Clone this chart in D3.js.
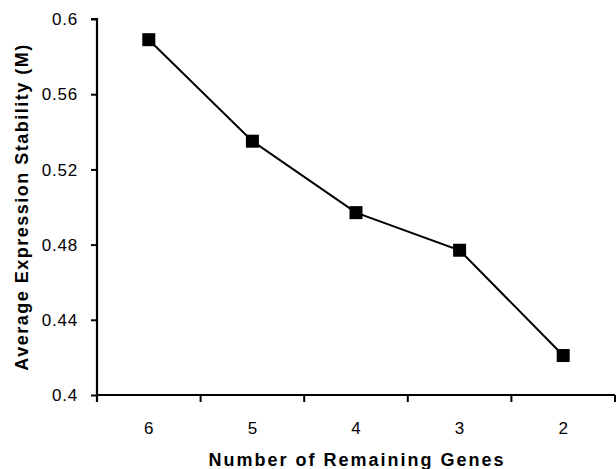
<!DOCTYPE html>
<html>
<head>
<meta charset="utf-8">
<script src="https://cdnjs.cloudflare.com/ajax/libs/d3/7.8.5/d3.min.js"></script>
<style>
	body { margin: 0; background: #fff; }
	text { font-family: "Liberation Sans", Arial, sans-serif; fill: #000; }
</style>
</head>
<body>
<div class="c-svg"></div>
<script>
//DATA
//-------------------------------------------------------------------------
const genes = ["6", "5", "4", "3", "2"];
const stability = [0.589, 0.535, 0.497, 0.477, 0.421];
const yTicks = [0.4, 0.44, 0.48, 0.52, 0.56, 0.6];

//opts for svg
const opts = {
	width: 616,
	height: 469,
	margin: { top: 19, right: 1, bottom: 74, left: 97 }
};

const inner = {
	width: opts.width - opts.margin.left - opts.margin.right,
	height: opts.height - opts.margin.top - opts.margin.bottom
};

const svg = d3.select(".c-svg")
	.append("svg")
	.attr("width", opts.width)
	.attr("height", opts.height);

const g = svg.append("g")
	.attr("transform", `translate(${opts.margin.left} ${opts.margin.top})`);

//scales
const x = d3.scaleBand()
	.domain(genes)
	.range([0, inner.width]);

const y = d3.scaleLinear()
	.domain([0.4, 0.6])
	.range([inner.height, 0]);

//AXIS
//-------------------------------------------------------------------------
const yAxis = d3.axisLeft(y)
	.tickValues(yTicks)
	.tickFormat(d3.format("~g"))
	.tickSize(6)
	.tickPadding(13);

const yG = g.append("g").call(yAxis);
yG.select(".domain").attr("stroke-width", 2.2).attr("d", `M0,${inner.height + 7}V0H-6`);
yG.selectAll(".tick line").attr("stroke-width", 2);
yG.selectAll("text")
	.style("font-size", "17px")
	.style("letter-spacing", "0.8px")
	.attr("dy", "0.34em")
	.attr("fill", "#000");

//x axis: ticks between categories
const xG = g.append("g").attr("transform", `translate(0 ${inner.height})`);
xG.append("line")
	.attr("x1", 0).attr("x2", inner.width)
	.attr("stroke", "#000").attr("stroke-width", 2.2);

const bounds = genes.map((d) => x(d)).concat([inner.width]);
xG.selectAll(".xtick")
	.data(bounds)
	.join("line")
	.attr("x1", (d) => d).attr("x2", (d) => d)
	.attr("y1", 0).attr("y2", 7)
	.attr("stroke", "#000").attr("stroke-width", 2);

xG.selectAll(".xlabel")
	.data(genes)
	.join("text")
	.attr("x", (d) => x(d) + x.bandwidth() / 2)
	.attr("y", 39)
	.attr("text-anchor", "middle")
	.style("font-size", "17px")
	.text((d) => d);

//LINE + MARKERS
//-------------------------------------------------------------------------
const pts = genes.map((d, i) => ({ key: d, value: stability[i] }));

const line = d3.line()
	.x((d) => x(d.key) + x.bandwidth() / 2)
	.y((d) => y(d.value));

g.append("path")
	.datum(pts)
	.attr("fill", "none")
	.attr("stroke", "#000")
	.attr("stroke-width", 2)
	.attr("d", line);

const s = 13;
g.selectAll(".marker")
	.data(pts)
	.join("rect")
	.attr("x", (d) => x(d.key) + x.bandwidth() / 2 - s / 2)
	.attr("y", (d) => y(d.value) - s / 2)
	.attr("width", s)
	.attr("height", s)
	.attr("fill", "#000");

//TITLES
//-------------------------------------------------------------------------
svg.append("text")
	.attr("x", 357)
	.attr("y", 466)
	.attr("text-anchor", "middle")
	.style("font-size", "18px")
	.style("letter-spacing", "2px")
	.style("font-weight", "bold")
	.text("Number of Remaining Genes");

svg.append("text")
	.attr("transform", `translate(28 207) rotate(-90)`)
	.attr("text-anchor", "middle")
	.style("font-size", "18px")
	.style("letter-spacing", "1.5px")
	.style("font-weight", "bold")
	.text("Average Expression Stability (M)");
</script>
</body>
</html>
